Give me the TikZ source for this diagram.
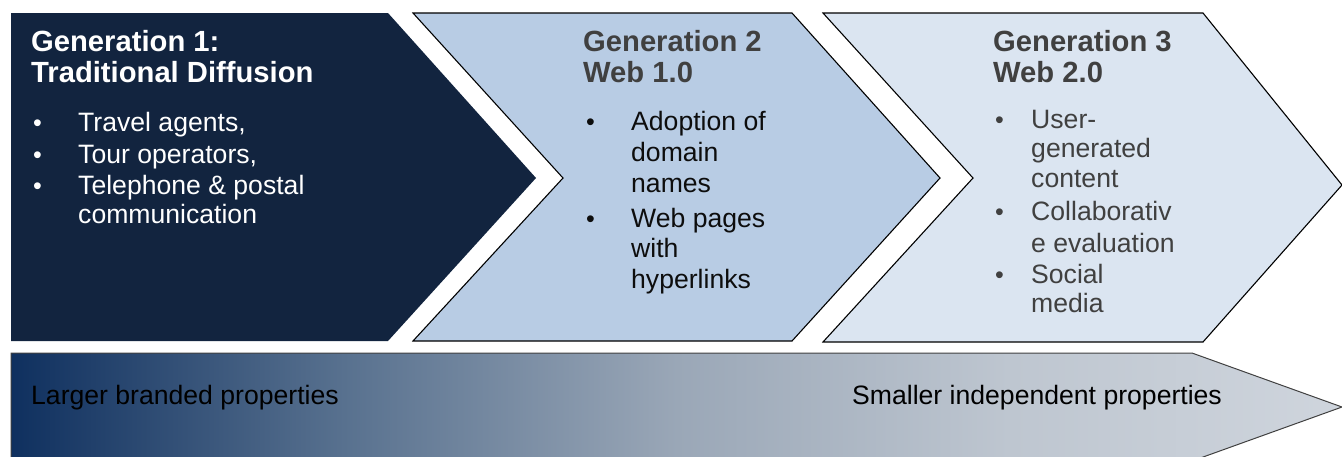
\documentclass[tikz,border=0pt]{standalone}
\usepackage{fontspec}
\setmainfont{Liberation Sans}
\definecolor{navy}{HTML}{12243F}
\definecolor{lblue}{HTML}{B8CCE4}
\definecolor{pblue}{HTML}{DBE5F1}
\definecolor{dgray}{HTML}{404040}
\definecolor{gradA}{HTML}{0F305F}
\definecolor{gradQ}{HTML}{58718F}
\definecolor{gradB}{HTML}{9AA7B7}
\definecolor{gradR}{HTML}{BEC6D0}
\definecolor{gradC}{HTML}{CFD5DD}
\pgfdeclarehorizontalshading{barshade}{100bp}{color(0bp)=(gradA); color(25bp)=(gradA); color(37.5bp)=(gradQ); color(50bp)=(gradB); color(62.5bp)=(gradR); color(75bp)=(gradC); color(100bp)=(gradC)}
\tikzset{
  head/.style={anchor=base west, inner sep=0pt, font=\fontsize{29.2}{33}\selectfont\bfseries},
  body/.style={anchor=base west, inner sep=0pt, font=\fontsize{26.6}{31}\selectfont},
  bul/.style={anchor=base west, inner sep=0pt, font=\fontsize{25}{31}\selectfont},
  chev/.style={draw=black, line width=1.1pt, line join=miter},
}
\begin{document}
\begin{tikzpicture}[x=1pt,y=-1pt]
\useasboundingbox (0,0) rectangle (1342,456);
\clip (0,0) rectangle (1342,456);
% chevron 1
\fill[navy] (11,13) -- (388,13) -- (536,178) -- (388,341) -- (11,341) -- cycle;
% chevron 2
\filldraw[chev, fill=lblue] (413,13) -- (792,13) -- (940,178) -- (792,341) -- (413,341) -- (563,178) -- cycle;
% chevron 3
\filldraw[chev, fill=pblue] (823,13) -- (1203,13) -- (1342,185) -- (1203,342) -- (823,342) -- (973,178) -- cycle;
% bottom arrow
\shade[shading=barshade] (11,353) -- (1192,353) -- (1342,407) -- (1192,461) -- (11,461) -- cycle;
\draw[draw=black!75, line width=1pt] (11,461) -- (11,353) -- (1192,353) -- (1342,407) -- (1192,461);

% Generation 1
\begin{scope}[text=white]
\node[head] (g1a) at (31,51) {Generation 1:};
\node[head] (g1b) at (31,82) {Traditional Diffusion};
\node[bul] (g1d1) at (33,131) {•};
\node[body] (g1t1) at (78,131) {Travel agents,};
\node[bul] (g1d2) at (33,163) {•};
\node[body] (g1t2) at (78,163) {Tour operators,};
\node[bul] (g1d3) at (33,194) {•};
\node[body] (g1t3) at (78,194) {Telephone \& postal};
\node[body] (g1t4) at (78,223) {communication};
\end{scope}

% Generation 2
\node[head, text=dgray] (g2a) at (583,51) {Generation 2};
\node[head, text=dgray] (g2b) at (583,82) {Web 1.0};
\begin{scope}[text=black!95]
\node[bul] (g2d1) at (586,130) {•};
\node[body] (g2t1) at (631,130) {Adoption of};
\node[body] (g2t2) at (631,161) {domain};
\node[body] (g2t3) at (631,192) {names};
\node[bul] (g2d2) at (586,227) {•};
\node[body] (g2t4) at (631,227) {Web pages};
\node[body] (g2t5) at (631,257) {with};
\node[body] (g2t6) at (631,288) {hyperlinks};
\end{scope}

% Generation 3
\begin{scope}[text=dgray]
\node[head] (g3a) at (993,51) {Generation 3};
\node[head] (g3b) at (993,82) {Web 2.0};
\node[bul] (g3d1) at (995,128) {•};
\node[body] (g3t1) at (1031,128) {User-};
\node[body] (g3t2) at (1031,157) {generated};
\node[body] (g3t3) at (1031,187) {content};
\node[bul] (g3d2) at (995,220) {•};
\node[body] (g3t4) at (1031,220) {Collaborativ};
\node[body] (g3t5) at (1031,252) {e evaluation};
\node[bul] (g3d3) at (995,283) {•};
\node[body] (g3t6) at (1031,283) {Social};
\node[body] (g3t7) at (1031,312) {media};
\end{scope}

% bottom labels
\node[body, text=black] (lb) at (31,404) {Larger branded properties};
\node[body, text=black] (sm) at (852,404) {Smaller independent properties};
\end{tikzpicture}
\end{document}
